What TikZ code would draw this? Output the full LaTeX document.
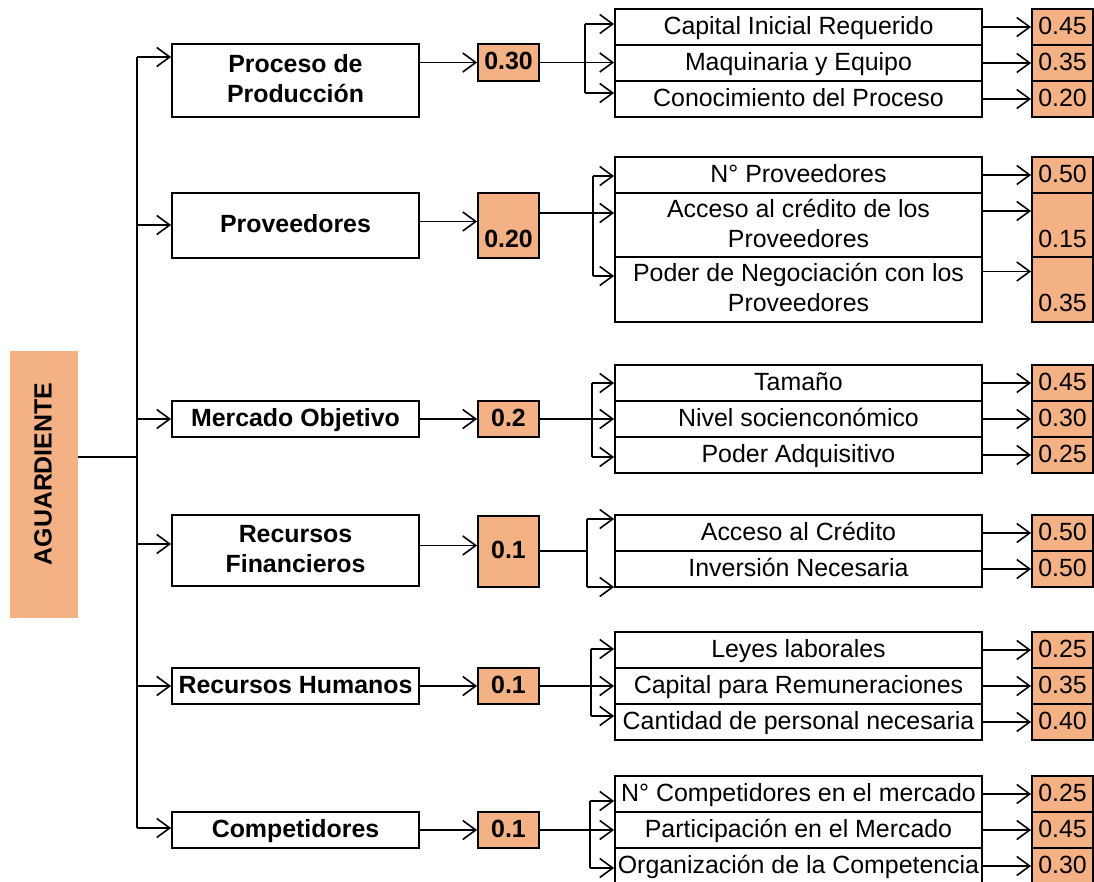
\documentclass[tikz,border=0pt]{standalone}
\usepackage{fontspec}
\setmainfont{Liberation Sans}
\usetikzlibrary{arrows.meta}
\definecolor{orng}{RGB}{244,177,131}
\begin{document}
\begin{tikzpicture}[x=0.5pt,y=-0.5pt,
  every node/.style={inner sep=0pt, align=center, text height=9.5pt, text depth=2pt,
    font=\fontsize{12.45}{15}\selectfont},
  two/.style={text height=24.5pt, text depth=2pt},
  box/.style={draw, line width=0.9pt},
  lone/.style={box, minimum width=123.5pt, font=\bfseries\fontsize{12.45}{15}\selectfont},
  midw/.style={box, fill=orng, minimum width=30.5pt, font=\bfseries\fontsize{12.45}{15}\selectfont},
  subb/.style={box, minimum width=183.5pt},
  rw/.style={box, fill=orng, minimum width=30.5pt},
  row/.style={minimum height=18pt},
  ln/.style={line width=0.8pt},
  arr/.style={ln, -{Straight Barb[length=6.5pt,width=9.5pt,line width=0.8pt]}}
]
\useasboundingbox (0,0) rectangle (1094,882);

% root
\node[box, draw=orng, fill=orng, minimum width=33pt, minimum height=132.5pt] (ag) at (44,484.5) {};
\node[rotate=90, font=\bfseries\fontsize{12.45}{15}\selectfont] (agt) at (44,474) {AGUARDIENTE};

% level 1
\node[lone, two, minimum height=36.5pt] (p1) at (295.5,80.5) {Proceso de\\Producción};
\node[lone, minimum height=32.5pt] (p2) at (295.5,225.5) {Proveedores};
\node[lone, row] (p3) at (295.5,419) {Mercado Objetivo};
\node[lone, two, minimum height=35.5pt] (p4) at (295.5,550.5) {Recursos\\Financieros};
\node[lone, row] (p5) at (295.5,686) {Recursos Humanos};
\node[lone, row] (p6) at (295.5,830) {Competidores};

% middle weights
\node[midw, minimum height=18.5pt] (w1) at (508.5,62.5) {0.30};
\node[midw, two, minimum height=32.5pt] (w2) at (508.5,225.5) {\mbox{}\\0.20};
\node[midw, row] (w3) at (508.5,419) {0.2};
\node[midw, minimum height=35.5pt] (w4) at (508.5,551.5) {0.1};
\node[midw, row] (w5) at (508.5,686) {0.1};
\node[midw, row] (w6) at (508.5,830) {0.1};

% sub criteria
\node[subb, row] (s11) at (798.5,27) {Capital Inicial Requerido};
\node[subb, row] (s12) at (798.5,63) {Maquinaria y Equipo};
\node[subb, row] (s13) at (798.5,99) {Conocimiento del Proceso};
\node[subb, row] (s21) at (798.5,175) {N° Proveedores};
\node[subb, two, minimum height=32pt] (s22) at (798.5,225) {Acceso al crédito de los\\Proveedores};
\node[subb, two, minimum height=32.5pt] (s23) at (798.5,289.5) {Poder de Negociación con los\\Proveedores};
\node[subb, row] (s31) at (798.5,383) {Tamaño};
\node[subb, row] (s32) at (798.5,419) {Nivel socienconómico};
\node[subb, row] (s33) at (798.5,455) {Poder Adquisitivo};
\node[subb, row] (s41) at (798.5,533) {Acceso al Crédito};
\node[subb, row] (s42) at (798.5,569) {Inversión Necesaria};
\node[subb, row] (s51) at (798.5,650) {Leyes laborales};
\node[subb, row] (s52) at (798.5,686) {Capital para Remuneraciones};
\node[subb, row] (s53) at (798.5,722) {Cantidad de personal necesaria};
\node[subb, row] (s61) at (798.5,794) {N° Competidores en el mercado};
\node[subb, row] (s62) at (798.5,830) {Participación en el Mercado};
\node[subb, row] (s63) at (798.5,866) {Organización de la Competencia};

% right weights
\node[rw, row] (r11) at (1062.5,27) {0.45};
\node[rw, row] (r12) at (1062.5,63) {0.35};
\node[rw, row] (r13) at (1062.5,99) {0.20};
\node[rw, row] (r21) at (1062.5,175) {0.50};
\node[rw, two, minimum height=32pt] (r22) at (1062.5,225) {\mbox{}\\0.15};
\node[rw, two, minimum height=32.5pt] (r23) at (1062.5,289.5) {\mbox{}\\0.35};
\node[rw, row] (r31) at (1062.5,383) {0.45};
\node[rw, row] (r32) at (1062.5,419) {0.30};
\node[rw, row] (r33) at (1062.5,455) {0.25};
\node[rw, row] (r41) at (1062.5,533) {0.50};
\node[rw, row] (r42) at (1062.5,569) {0.50};
\node[rw, row] (r51) at (1062.5,650) {0.25};
\node[rw, row] (r52) at (1062.5,686) {0.35};
\node[rw, row] (r53) at (1062.5,722) {0.40};
\node[rw, row] (r61) at (1062.5,794) {0.25};
\node[rw, row] (r62) at (1062.5,830) {0.45};
\node[rw, row] (r63) at (1062.5,866) {0.30};

% trunk
\coordinate (tj) at (137,457);
\coordinate (t1) at (137,57);
\coordinate (t2) at (137,225);
\coordinate (t3) at (137,419);
\coordinate (t4) at (137,544);
\coordinate (t5) at (137,686);
\coordinate (t6) at (137,828);
\draw[ln] (tj -| ag.east) -- (tj);
\draw[ln] (t1) -- (t6);
\foreach \i in {1,...,6} {\draw[arr] (t\i) -- (t\i -| p\i.west);}

% level 1 -> middle weight
\draw[arr] (w1.west -| p1.east) -- (w1.west);
\draw[arr] ([yshift=2pt]w2.west -| p2.east) -- ([yshift=2pt]w2.west);
\draw[arr] (w3.west -| p3.east) -- (w3.west);
\draw[arr] ([yshift=3pt]w4.west -| p4.east) -- ([yshift=3pt]w4.west);
\draw[arr] (w5.west -| p5.east) -- (w5.west);
\draw[arr] (w6.west -| p6.east) -- (w6.west);

% forks
\coordinate (f1a) at (585,24); \coordinate (f1b) at (585,62.5); \coordinate (f1c) at (585,93);
\coordinate (f2a) at (593,176); \coordinate (f2b) at (593,213); \coordinate (f2c) at (593,276);
\coordinate (f3a) at (592,383); \coordinate (f3b) at (592,419); \coordinate (f3c) at (592,457);
\coordinate (f4a) at (587,519); \coordinate (f4b) at (587,551); \coordinate (f4c) at (587,587);
\coordinate (f5a) at (591,649); \coordinate (f5b) at (591,686); \coordinate (f5c) at (591,716);
\coordinate (f6a) at (590,801); \coordinate (f6b) at (590,830); \coordinate (f6c) at (590,868);

\draw[ln] (f1b -| w1.east) -- (f1b);
\draw[ln] (f2b -| w2.east) -- (f2b);
\draw[ln] (f3b -| w3.east) -- (f3b);
\draw[ln] (f4b -| w4.east) -- (f4b);
\draw[ln] (f5b -| w5.east) -- (f5b);
\draw[ln] (f6b -| w6.east) -- (f6b);
\foreach \g in {1,...,6} {\draw[ln] (f\g a) -- (f\g c);}

\draw[arr] (f1a) -- (f1a -| s11.west);
\draw[arr] (f1b) -- (f1b -| s12.west);
\draw[arr] (f1c) -- (f1c -| s13.west);
\draw[arr] (f2a) -- (f2a -| s21.west);
\draw[arr] (f2b) -- (f2b -| s22.west);
\draw[arr] (f2c) -- (f2c -| s23.west);
\draw[arr] (f3a) -- (f3a -| s31.west);
\draw[arr] (f3b) -- (f3b -| s32.west);
\draw[arr] (f3c) -- (f3c -| s33.west);
\draw[arr] (f4a) -- (f4a -| s41.west);
\draw[arr] (f4c) -- (f4c -| s42.west);
\draw[arr] (f5a) -- (f5a -| s51.west);
\draw[arr] (f5b) -- (f5b -| s52.west);
\draw[arr] (f5c) -- (f5c -| s53.west);
\draw[arr] (f6a) -- (f6a -| s61.west);
\draw[arr] (f6b) -- (f6b -| s62.west);
\draw[arr] (f6c) -- (f6c -| s63.west);

% sub -> right weights
\foreach \r in {11,12,13,21,31,32,33,41,42,51,52,53,61,62,63} {\draw[arr] (s\r.east) -- (r\r.west);}
\draw[arr] ([yshift=7pt]s22.east) -- ([yshift=7pt]r22.west);
\draw[arr] ([yshift=9pt]s23.east) -- ([yshift=9pt]r23.west);
\end{tikzpicture}
\end{document}
